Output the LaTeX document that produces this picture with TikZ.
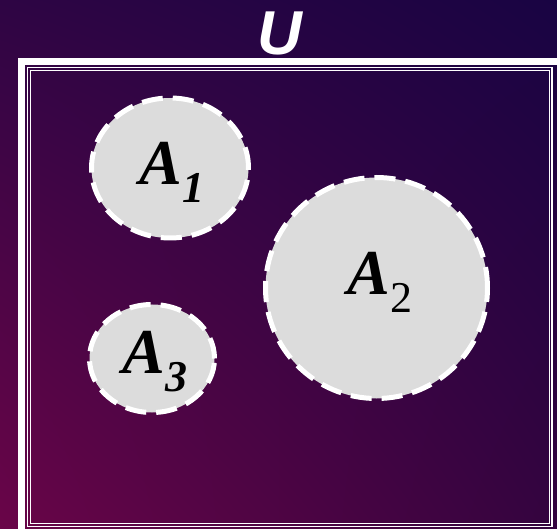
\documentclass[tikz,border=0pt]{standalone}
\usepackage{fontspec}
\setmainfont{Liberation Serif}
\newfontfamily\titlefont{Liberation Sans}
\usetikzlibrary{shapes.geometric,shadings}
\definecolor{BgTopLeft}{HTML}{2E0544}
\definecolor{BgTopRight}{HTML}{190443}
\definecolor{BgBottomLeft}{HTML}{6A0548}
\definecolor{BgBottomRight}{HTML}{34043F}
\definecolor{SetFill}{HTML}{DCDCDC}
\newcommand{\setname}[1]{A\raisebox{-18pt}{\fontsize{44}{44}\selectfont #1}}

\begin{document}
\begin{tikzpicture}[x=1pt,y=-1pt,
  setshape/.style={ellipse,fill=SetFill,draw=white,line width=5pt,
    dash pattern=on 21pt off 10pt,inner sep=0pt},
  setlabel/.style={inner sep=0pt,font=\fontsize{64}{64}\selectfont\bfseries\itshape},
  frameline/.style={draw=white,line width=1.3pt}
]
\path[use as bounding box,clip] (0,0) rectangle (557,529);
\shade[upper left=BgTopLeft,upper right=BgTopRight,
  lower left=BgBottomLeft,lower right=BgBottomRight] (0,0) rectangle (557,529);

% universe frame
\draw[white,line width=7pt] (21.5,61.5) rectangle (590,560);
\draw[frameline] (27.5,67.5) rectangle (552,526.5);
\draw[frameline] (30.5,70.5) rectangle (549.5,523.5);
\node[inner sep=0pt,text=white,font=\titlefont\fontsize{62}{62}\selectfont\bfseries\itshape]
  (universe) at (280,33) {U};

% sets
\node[setshape,minimum width=157pt,minimum height=140pt] (setA1) at (170,168) {};
\node[setshape,minimum width=222pt,minimum height=221pt] (setA2) at (376.5,288) {};
\node[setshape,minimum width=125pt,minimum height=108pt] (setA3) at (152,358.5) {};

\node[setlabel] (labelA1) at (172,172) {\setname{1}};
\node[setlabel] (labelA2) at (380,282) {\setname{\normalfont 2}};
\node[setlabel] (labelA3) at (155,362) {\setname{3}};
\end{tikzpicture}
\end{document}
